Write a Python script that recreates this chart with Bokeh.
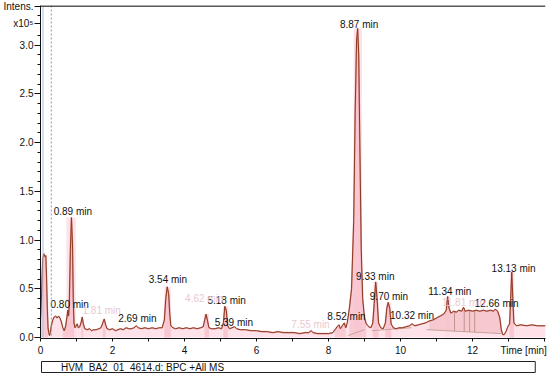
import numpy as np
from bokeh.plotting import figure
from bokeh.models import FixedTicker, Span, ColumnDataSource, Title
from bokeh.embed import file_html
from bokeh.resources import INLINE

# ---------------- data (intensity in units of 1e5) ----------------
time_min = [
    0.00, 0.03, 0.06, 0.09, 0.12, 0.15, 0.17, 0.19, 0.21, 0.23, 0.25, 0.27, 0.30, 0.34, 0.38,
    0.42, 0.46, 0.50, 0.54, 0.58, 0.62, 0.66, 0.70, 0.73, 0.76, 0.78, 0.80, 0.83, 0.86, 0.89,
    0.91, 0.93, 0.96, 0.99, 1.02, 1.05, 1.09, 1.13, 1.16, 1.19, 1.23, 1.30, 1.36, 1.42, 1.48,
    1.55, 1.62, 1.68, 1.73, 1.77, 1.81, 1.85, 1.92, 2.00, 2.08, 2.15, 2.22, 2.30, 2.38, 2.45,
    2.52, 2.60, 2.66, 2.72, 2.80, 2.90, 3.00, 3.10, 3.20, 3.30, 3.38, 3.44, 3.48, 3.52, 3.56,
    3.59, 3.62, 3.68, 3.75, 3.85, 3.95, 4.05, 4.15, 4.25, 4.35, 4.45, 4.52, 4.56, 4.60, 4.64,
    4.68, 4.75, 4.85, 4.95, 5.03, 5.08, 5.12, 5.16, 5.20, 5.25, 5.32, 5.39, 5.45, 5.55, 5.70,
    5.85, 6.00, 6.15, 6.30, 6.45, 6.60, 6.75, 6.90, 7.05, 7.20, 7.35, 7.45, 7.52, 7.57, 7.70,
    7.85, 8.00, 8.12, 8.18, 8.24, 8.29, 8.33, 8.38, 8.44, 8.48, 8.52, 8.58, 8.64, 8.70, 8.74,
    8.78, 8.81, 8.84, 8.87, 8.91, 8.95, 9.00, 9.05, 9.12, 9.18, 9.23, 9.27, 9.31, 9.35, 9.39,
    9.45, 9.52, 9.58, 9.62, 9.66, 9.70, 9.74, 9.80, 9.88, 9.96, 10.05, 10.15, 10.25, 10.32, 10.40,
    10.50, 10.60, 10.70, 10.80, 10.90, 11.00, 11.10, 11.20, 11.27, 11.31, 11.35, 11.40, 11.48, 11.55, 11.62,
    11.70, 11.75, 11.80, 11.90, 12.00, 12.10, 12.20, 12.30, 12.40, 12.50, 12.58, 12.63, 12.70, 12.76, 12.80,
    12.84, 12.88, 12.93, 12.98, 13.03, 13.06, 13.09, 13.12, 13.15, 13.22, 13.35, 13.50, 13.65, 13.80, 14.03,
]
intensity = [
    0.20, 0.45, 0.80, 0.86, 0.83, 0.84, 0.60, 0.30, 0.10, 0.05, 0.02, 0.05, 0.12, 0.18, 0.21,
    0.22, 0.20, 0.22, 0.20, 0.16, 0.10, 0.07, 0.12, 0.20, 0.28, 0.22, 0.35, 0.90, 1.23, 0.95,
    0.40, 0.15, 0.10, 0.12, 0.14, 0.10, 0.11, 0.16, 0.21, 0.14, 0.09, 0.08, 0.09, 0.07, 0.08,
    0.08, 0.09, 0.10, 0.15, 0.19, 0.13, 0.09, 0.08, 0.09, 0.07, 0.08, 0.09, 0.08, 0.10, 0.09,
    0.09, 0.10, 0.12, 0.10, 0.09, 0.10, 0.09, 0.10, 0.09, 0.10, 0.10, 0.18, 0.40, 0.52, 0.45,
    0.25, 0.12, 0.10, 0.09, 0.10, 0.09, 0.10, 0.09, 0.10, 0.09, 0.10, 0.11, 0.18, 0.24, 0.17,
    0.10, 0.09, 0.09, 0.10, 0.09, 0.15, 0.32, 0.28, 0.12, 0.09, 0.10, 0.11, 0.09, 0.08, 0.08,
    0.07, 0.07, 0.06, 0.06, 0.05, 0.06, 0.05, 0.05, 0.05, 0.04, 0.05, 0.05, 0.07, 0.05, 0.04,
    0.04, 0.04, 0.05, 0.08, 0.11, 0.13, 0.09, 0.12, 0.15, 0.10, 0.15, 0.30, 0.50, 1.20, 2.30,
    3.05, 3.17, 2.90, 2.00, 0.90, 0.40, 0.20, 0.14, 0.11, 0.10, 0.15, 0.35, 0.57, 0.40, 0.15,
    0.10, 0.09, 0.15, 0.30, 0.36, 0.30, 0.14, 0.10, 0.09, 0.10, 0.10, 0.11, 0.12, 0.14, 0.12,
    0.13, 0.14, 0.15, 0.17, 0.18, 0.20, 0.22, 0.24, 0.28, 0.42, 0.30, 0.25, 0.27, 0.26, 0.28,
    0.27, 0.31, 0.27, 0.28, 0.27, 0.28, 0.27, 0.28, 0.27, 0.28, 0.27, 0.29, 0.27, 0.20, 0.08,
    0.03, 0.03, 0.06, 0.11, 0.14, 0.40, 0.67, 0.40, 0.15, 0.12, 0.13, 0.12, 0.13, 0.12, 0.12,
]

peak_labels = ["0.80 min", "0.89 min", "2.69 min", "3.54 min", "5.18 min", "5.39 min", "8.52 min",
               "8.87 min", "9.33 min", "9.70 min", "10.32 min", "11.34 min", "12.66 min", "13.13 min"]
peak_label_t = [0.81, 0.90, 2.69, 3.54, 5.17, 5.37, 8.50, 8.85, 9.30, 9.68, 10.32, 11.37, 12.67, 13.14]
peak_label_y = [0.34, 1.29, 0.195, 0.60, 0.38, 0.15, 0.215, 3.21, 0.63, 0.42, 0.225, 0.47, 0.35, 0.71]

faint_labels = ["1.81 min", "4.62 min", "7.55 min", "11.81 min"]
faint_label_t = [1.70, 4.55, 7.50, 11.75]
faint_label_y = [0.28, 0.40, 0.13, 0.36]

# integration windows (start, end)
win_start = [0.00, 0.62, 1.10, 1.70, 3.42, 4.53, 5.06, 8.16, 8.55, 9.22, 9.56, 13.03]
win_end = [0.22, 0.95, 1.22, 1.84, 3.64, 4.68, 5.24, 8.50, 9.05, 9.42, 9.78, 13.16]
# highlighted peak columns (start, end)
col_start = [0.72, 3.44, 4.54, 5.08, 8.70, 9.25, 9.59, 11.27, 13.04]
col_end = [0.98, 3.62, 4.68, 5.22, 8.93, 9.38, 9.75, 11.36, 13.16]

# broad integrated region with its straight baseline
broad_t = [10.72, 12.80]
broad_base = [0.08, 0.04]
split_t = [11.50, 11.77, 11.92, 12.06]
# extra baselines
base_x0 = [8.54, 9.20]
base_y0 = [0.02, 0.07]
base_x1 = [9.00, 10.30]
base_y1 = [0.08, 0.10]

marker_solid_t = 0.07
marker_dash_t = 0.30

x_ticks = [0, 2, 4, 6, 8, 10, 12]
x_title_tick = 13.42
x_tick_marks = [0, 1, 2, 3, 4, 5, 6, 7, 8, 9, 10, 11, 12, 13, 14]
y_ticks = [0.0, 0.5, 1.0, 1.5, 2.0, 2.5, 3.0]
y_unit_tick = 3.22
y_title_tick = 3.40

legend_text = "HVM_BA2_01_4614.d: BPC +All MS"

# ---------------- main figure ----------------
FONT = "Liberation Sans"
PX_PER_UNIT = 97.5
W, H = 550, 376
FRAME_TOP, FRAME_BOTTOM, FRAME_LEFT, FRAME_RIGHT = 5, 338, 39, 544
y0 = -1.0 / PX_PER_UNIT
y1 = y0 + (FRAME_BOTTOM - FRAME_TOP) / PX_PER_UNIT
x1 = (FRAME_RIGHT - FRAME_LEFT) / 36.0

t = np.array(time_min)
yv = np.array(intensity)

p = figure(frame_width=FRAME_RIGHT - FRAME_LEFT, frame_height=FRAME_BOTTOM - FRAME_TOP,
           x_range=(0, x1), y_range=(y0, y1),
           output_backend="svg", toolbar_location=None,
           min_border_left=FRAME_LEFT, min_border_right=W - FRAME_RIGHT,
           min_border_top=FRAME_TOP, min_border_bottom=0)
p.outline_line_color = None
p.grid.visible = False
p.background_fill_color = "white"
p.border_fill_color = "white"

# light fill under the whole trace
p.varea(x=t, y1=0, y2=yv, fill_color="#fde3e9", fill_alpha=1.0)

# peak columns
for a, b in zip(col_start, col_end):
    m = (t >= a) & (t <= b)
    top = yv[m].max()
    p.quad(left=a, right=b, bottom=0, top=top, fill_color="#fcd7e0", fill_alpha=0.7, line_color=None)

# integration areas
for a, b in zip(win_start, win_end):
    m = (t >= a) & (t <= b)
    p.varea(x=t[m], y1=0, y2=yv[m], fill_color="#f5b9c4", fill_alpha=0.6)

# broad region between baseline and trace
m = (t >= broad_t[0]) & (t <= broad_t[1])
bt = t[m]
bb = np.interp(bt, broad_t, broad_base)
p.varea(x=bt, y1=bb, y2=yv[m], fill_color="#f2bcc4", fill_alpha=0.7)
p.line(broad_t, broad_base, line_color="#c8a49c", line_width=1)
for s in split_t:
    p.segment(x0=s, y0=float(np.interp(s, broad_t, broad_base)), x1=s, y1=float(np.interp(s, t, yv)),
              line_color="#c0958f", line_width=1)
p.segment(x0=base_x0, y0=base_y0, x1=base_x1, y1=base_y1, line_color="#c8a49c", line_width=1)

# marker lines
p.add_layout(Span(location=marker_solid_t, dimension="height", line_color="#a8c3e2", line_width=1))
p.add_layout(Span(location=marker_dash_t, dimension="height", line_color="#6f9fd6", line_width=1,
                  line_dash="2 2"))

# trace
p.line(t, yv, line_color="#d9534f", line_width=1.6, line_alpha=0.45)
p.line(t, yv, line_color="#8a3a20", line_width=1.0)

# labels
src = ColumnDataSource(dict(x=peak_label_t, y=peak_label_y, text=peak_labels))
p.text(x="x", y="y", text="text", source=src, text_font={"value": FONT}, text_font_size="10px",
       text_align="center", text_baseline="middle", text_color="#111111")
fsrc = ColumnDataSource(dict(x=faint_label_t, y=faint_label_y, text=faint_labels))
p.text(x="x", y="y", text="text", source=fsrc, text_font={"value": FONT}, text_font_size="10px",
       text_align="center", text_baseline="middle", text_color="#e9c9d1")

# top border
p.add_layout(Span(location=y1 - 0.006, dimension="width", line_color="#222222", line_width=1.5))

# axes
for ax in (p.xaxis[0], p.yaxis[0]):
    ax.axis_line_color = "#111111"
    ax.major_tick_line_color = "#111111"
    ax.minor_tick_line_color = "#111111"
    ax.major_tick_in = 0
    ax.minor_tick_in = 0
    ax.major_label_text_font = FONT
    ax.major_label_text_font_size = "10px"
    ax.major_label_text_color = "#111111"

p.xaxis.ticker = FixedTicker(ticks=x_ticks + [x_title_tick], minor_ticks=x_tick_marks)
p.xaxis.major_label_overrides = {x_title_tick: "Time [min]"}
p.xaxis.major_tick_line_color = None
p.xaxis.major_tick_out = 4
p.xaxis.minor_tick_out = 3
p.xaxis.major_label_standoff = 2

ymin = [round(0.1 * i, 1) for i in range(0, 34) if i % 5 != 0 and i != 32]
p.yaxis.ticker = FixedTicker(ticks=y_ticks + [y_unit_tick, y_title_tick], minor_ticks=ymin)
overrides = {v: "%.1f" % v for v in y_ticks}
overrides[y_unit_tick] = "x10\u2075"
overrides[y_title_tick] = "Intens."
p.yaxis.major_label_overrides = overrides
p.yaxis.major_tick_out = 6
p.yaxis.minor_tick_out = 3
p.yaxis.major_label_standoff = 1

# legend strip as a boxed caption below the axis
NB = "\u00a0"
caption = Title(text=NB * 7 + legend_text + NB * 112, align="left", offset=1, standoff=2,
                text_font=FONT, text_font_size="10px", text_font_style="normal",
                text_color="#111111", border_line_color="#222222", border_line_width=1,
                background_fill_color="white")
p.add_layout(caption, "below")

open("out.html", "w").write(file_html(p, INLINE))
